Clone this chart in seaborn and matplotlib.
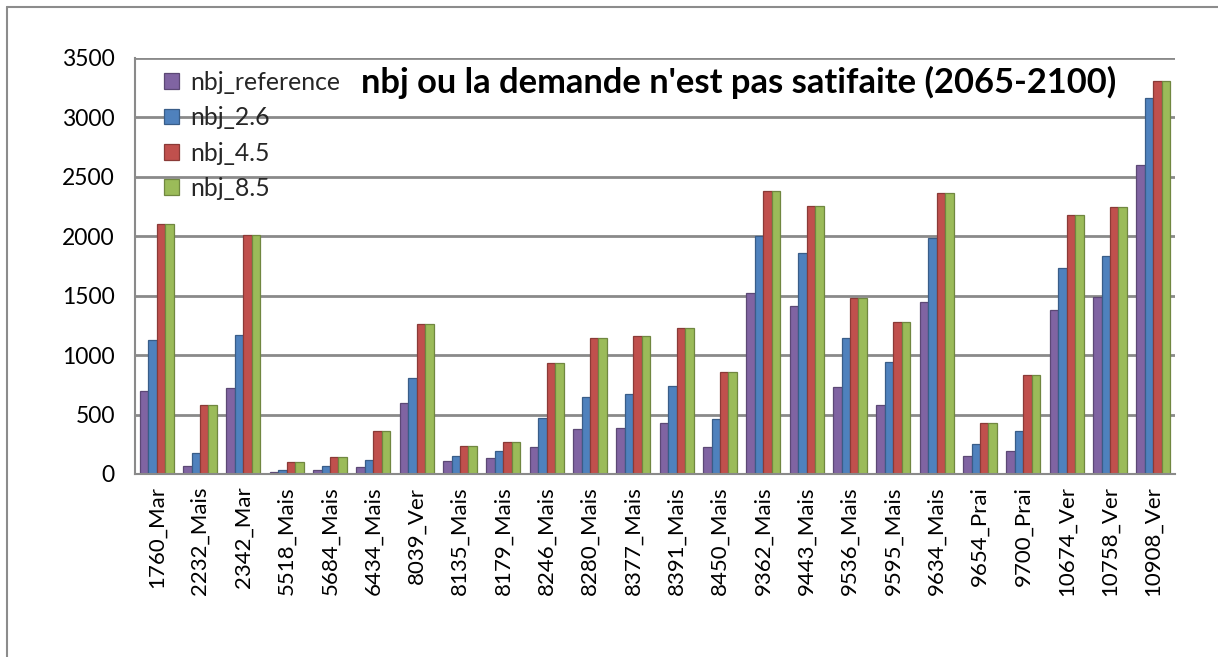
import matplotlib
matplotlib.use("Agg")
import matplotlib.pyplot as plt
from matplotlib.lines import Line2D
from matplotlib.ticker import FixedLocator
from matplotlib.colors import to_rgb
import seaborn as sns
import pandas as pd
import numpy as np

# Sites (station + crop)
categories = ["1760_Mar", "2232_Mais", "2342_Mar", "5518_Mais", "5684_Mais", "6434_Mais",
              "8039_Ver", "8135_Mais", "8179_Mais", "8246_Mais", "8280_Mais", "8377_Mais",
              "8391_Mais", "8450_Mais", "9362_Mais", "9443_Mais", "9536_Mais", "9595_Mais",
              "9634_Mais", "9654_Prai", "9700_Prai", "10674_Ver", "10758_Ver", "10908_Ver"]

# Number of days with unmet demand, per scenario
nbj_reference = [700, 70, 725, 15, 30, 55, 600, 110, 135, 230, 375, 385,
                 425, 230, 1520, 1410, 730, 580, 1450, 150, 190, 1380, 1490, 2600]
nbj_26 = [1130, 180, 1170, 35, 65, 115, 805, 150, 195, 470, 650, 670,
          740, 460, 2000, 1860, 1145, 945, 1985, 255, 365, 1730, 1835, 3160]
nbj_45 = [2105, 580, 2010, 100, 140, 365, 1260, 235, 270, 935, 1145, 1165,
          1225, 860, 2380, 2255, 1480, 1275, 2365, 430, 830, 2175, 2245, 3305]
nbj_85 = [2105, 580, 2010, 100, 140, 365, 1260, 235, 270, 935, 1145, 1165,
          1225, 860, 2380, 2255, 1480, 1275, 2365, 430, 830, 2175, 2245, 3305]

series_names = ["nbj_reference", "nbj_2.6", "nbj_4.5", "nbj_8.5"]
palette = ["#8064A2", "#4F81BD", "#C0504D", "#9BBB59"]
y_ticks = [0, 500, 1000, 1500, 2000, 2500, 3000, 3500]

df = pd.DataFrame({
    "site": categories * 4,
    "serie": np.repeat(series_names, len(categories)),
    "nbj": nbj_reference + nbj_26 + nbj_45 + nbj_85,
})

sns.set_style("white")
plt.rcParams["font.family"] = ["Lato", "DejaVu Sans"]

W, H = 1218, 657
fig = plt.figure(figsize=(W / 100, H / 100), dpi=100)
ax = fig.add_axes([135 / W, 1 - 474 / H, 1040 / W, (474 - 58) / H])

sns.barplot(data=df, x="site", y="nbj", hue="serie", palette=palette,
            width=0.78, saturation=1, ax=ax, errorbar=None)

# darker outline on each column for a bevelled look
for p in ax.patches:
    fc = to_rgb(p.get_facecolor())
    p.set_edgecolor(tuple(c * 0.72 for c in fc))
    p.set_linewidth(0.9)

grid_col = "#8a8a8a"
ax.set_ylim(0, 3500)
ax.set_xlim(-0.5, len(categories) - 0.5)
ax.yaxis.set_major_locator(FixedLocator(y_ticks))
ax.yaxis.grid(True, color=grid_col, lw=2)
ax.set_axisbelow(True)

for side in ["top", "right"]:
    ax.spines[side].set_visible(False)
for side in ["left", "bottom"]:
    ax.spines[side].set_color(grid_col)
    ax.spines[side].set_linewidth(1.5)

ax.tick_params(axis="y", length=6, width=1.2, color=grid_col, labelsize=16.5,
               pad=8.5, labelcolor="black")
ax.set_xticks(range(len(categories)))
ax.set_xticklabels(categories, rotation=90)
ax.tick_params(axis="x", which="major", length=0, labelsize=16, pad=9,
               labelcolor="black")
ax.set_xticks(np.arange(-0.5, len(categories), 1.0), minor=True)
ax.tick_params(axis="x", which="minor", length=6, width=1.2, color=grid_col)

ax.set_xlabel("")
ax.set_ylabel("")

leg = ax.legend(loc="upper left", bbox_to_anchor=(154 / W, 1 - 61 / H),
                bbox_transform=fig.transFigure, frameon=False, fontsize=17.8,
                handlelength=0.6, handleheight=0.6, handletextpad=0.45,
                labelspacing=0.5, borderaxespad=0)

fig.text(739 / W, 1 - 82 / H, "nbj ou la demande n'est pas satifaite (2065-2100)",
         ha="center", va="center", fontsize=24.8, fontweight="bold", color="black")

# outer chart frame
frame_col = "#8c8c8c"
fig.add_artist(Line2D([7 / W, 1.0], [1 - 7 / H, 1 - 7 / H], transform=fig.transFigure,
                      color=frame_col, lw=1.5))
fig.add_artist(Line2D([7 / W, 7 / W], [1 - 7 / H, 0.0], transform=fig.transFigure,
                      color=frame_col, lw=1.5))

fig.savefig("out.png", dpi=100)
